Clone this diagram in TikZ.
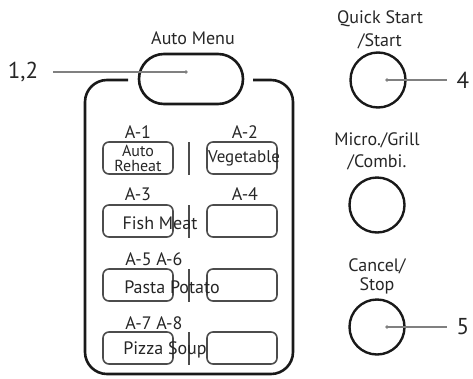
\documentclass[tikz,border=0pt]{standalone}
\usepackage{fontspec}
\setmainfont{PT Sans}
\begin{document}
\begin{tikzpicture}[x=1pt,y=-1pt,
  txt/.style={font=\fontsize{18}{18}\selectfont, text=black!85, inner sep=0pt},
  num/.style={font=\fontsize{23}{23}\selectfont, text=black!85, inner sep=0pt},
  keybox/.style={draw=black!70, line width=1.6pt, rounded corners=6pt,
    minimum width=70pt, minimum height=32pt, inner sep=0pt},
  knob/.style={draw=black!90, line width=2.4pt, circle, minimum size=55pt, inner sep=0pt},
  leader/.style={draw=black!50, line width=1.3pt},
  divider/.style={draw=black!70, line width=1.6pt}]
  \useasboundingbox (0,0) rectangle (473,378);

  %–– Pannello Auto Menu ––
  \draw[black!90, line width=2.6pt, rounded corners=22pt]
    (128,80) -- (85,80) -- (85,374) -- (293,374) -- (293,80) -- (253,80);
  \node[draw=black!90, line width=2.6pt, rounded corners=25pt,
    minimum width=104pt, minimum height=50pt] (menu) at (191,79) {};
  \node[txt] (menulbl) at (193,38) {Auto Menu};

  %–– Tasti ––
  \foreach \r/\y in {1/158,2/221,3/285,4/348} {
    \node[keybox] (keyL\r) at (138,\y) {};
    \node[keybox] (keyR\r) at (242,\y) {};
    \draw[divider] (189,\y-16) -- (189,\y+17);
  }

  %–– Etichette dei tasti ––
  \node[txt] (a1) at (138,132) {A-1};
  \node[txt] (a2) at (245,132) {A-2};
  \node[txt] (a3) at (138,194) {A-3};
  \node[txt] (a4) at (245,194) {A-4};
  \node[txt] (a56) at (154,259) {A-5 A-6};
  \node[txt] (a78) at (154,323) {A-7 A-8};
  \node[txt, align=center, font=\fontsize{16}{15}\selectfont] (reheat) at (138,158) {Auto\\Reheat};
  \node[txt, font=\fontsize{17}{17}\selectfont] (veg) at (244,158) {Vegetable};
  \node[txt] (fish) at (160,223) {Fish Meat};
  \node[txt] (pasta) at (172,287) {Pasta Potato};
  \node[txt] (pizza) at (165,350) {Pizza Soup};

  %–– Manopole a destra ––
  \node[knob] (start) at (378,80) {};
  \node[knob] (micro) at (377,205) {};
  \node[knob] (cancel) at (377,327) {};
  \node[txt, align=center, font=\fontsize{18}{23}\selectfont] (startlbl) at (380,30) {Quick Start\\/Start};
  \node[txt, align=center, font=\fontsize{18}{22}\selectfont] (microlbl) at (377,151) {Micro./Grill\\/Combi.};
  \node[txt, align=center, font=\fontsize{18}{19}\selectfont] (cancellbl) at (377,276) {Cancel/\\Stop};

  %–– Richiami ––
  \coordinate (dot12) at (186,72);
  \coordinate (end12) at (53,72);
  \coordinate (dot4) at (387,80);
  \coordinate (end4) at (447,80);
  \coordinate (dot5) at (387,327);
  \coordinate (end5) at (447,327);
  \fill[black!50] (dot12) circle (1.8pt) (dot4) circle (1.8pt) (dot5) circle (1.8pt);
  \draw[leader] (end12) -- (dot12);
  \draw[leader] (dot4) -- (end4);
  \draw[leader] (dot5) -- (end5);
  \node[num] (n12) at (23,72) {1,2};
  \node[num] (n4) at (463,80) {4};
  \node[num] (n5) at (463,327) {5};
\end{tikzpicture}
\end{document}
